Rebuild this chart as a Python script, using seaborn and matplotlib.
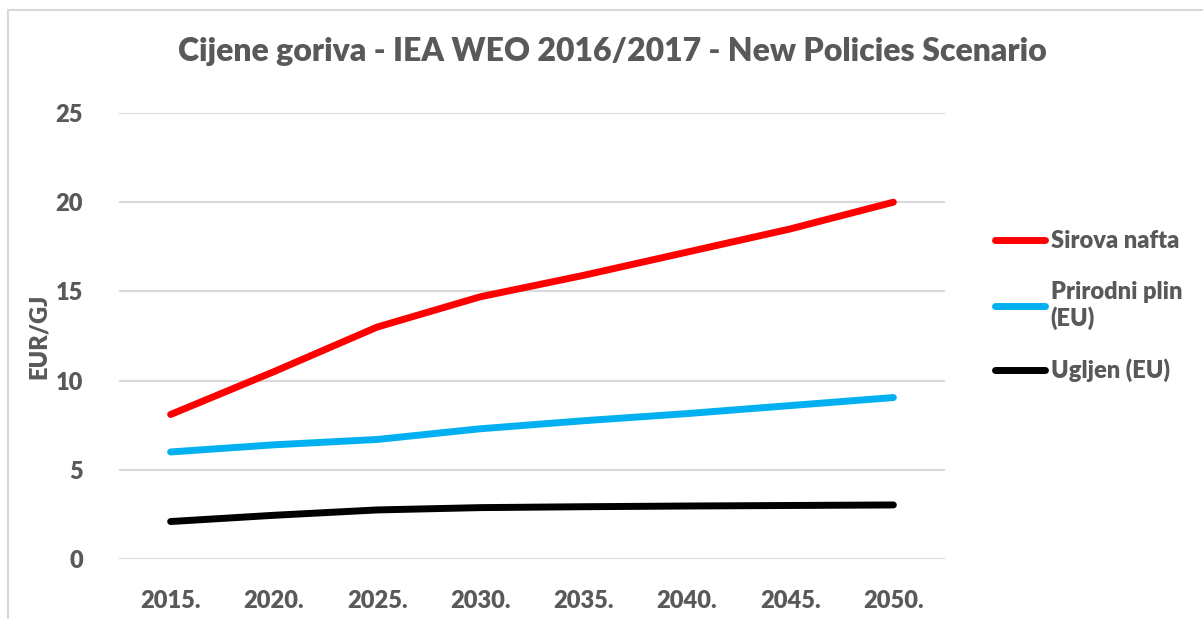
import pandas as pd
import seaborn as sns
import matplotlib.pyplot as plt
from matplotlib.patches import Rectangle

# podaci očitani s grafa (EUR/GJ)
godine = ['2015.', '2020.', '2025.', '2030.', '2035.', '2040.', '2045.', '2050.']
sirova_nafta = [8.1, 10.5, 13.0, 14.7, 15.9, 17.2, 18.5, 20.0]
prirodni_plin = [6.0, 6.4, 6.7, 7.3, 7.75, 8.15, 8.6, 9.05]
ugljen = [2.1, 2.45, 2.75, 2.88, 2.93, 2.97, 3.0, 3.03]
serije = ['Sirova nafta', 'Prirodni plin\n(EU)', 'Ugljen (EU)']
boje = ['#ff0000', '#00b0f0', '#000000']

df = pd.DataFrame({'Godina': godine * 3,
                   'Vrijednost': sirova_nafta + prirodni_plin + ugljen,
                   'Serija': [s for s in serije for _ in godine]})

sns.set_style('white')
plt.rcParams['font.family'] = ['Lato', 'DejaVu Sans']
siva = '#595959'

fig = plt.figure(figsize=(12.03, 6.19), dpi=100)
ax = fig.add_axes([119 / 1203, 1 - 559 / 619, (945 - 119) / 1203, (559 - 113) / 619])

sns.lineplot(data=df, x='Godina', y='Vrijednost', hue='Serija', hue_order=serije,
             palette=dict(zip(serije, boje)), linewidth=5, sort=False, ax=ax,
             solid_capstyle='round', solid_joinstyle='round', zorder=3)

ax.set_xlim(-0.5, len(godine) - 0.5)
ax.set_ylim(0, 25)
ax.set_yticks(range(0, 26, 5))
ax.yaxis.grid(True, color='#d9d9d9', linewidth=1.5)
ax.xaxis.grid(False)
for s in ax.spines.values():
    s.set_visible(False)
ax.tick_params(axis='both', length=0, labelsize=17, labelcolor=siva)
ax.tick_params(axis='x', pad=22)
ax.tick_params(axis='y', pad=26)
for t in ax.get_xticklabels() + ax.get_yticklabels():
    t.set_fontweight('heavy')

ax.set_xlabel('')
ax.set_ylabel('EUR/GJ', fontsize=17, fontweight='heavy', color=siva, labelpad=4)

fig.text(612 / 1203, 1 - 52 / 619, 'Cijene goriva - IEA WEO 2016/2017 - New Policies Scenario',
         ha='center', va='center', fontsize=23, fontweight='heavy', color=siva)

leg = ax.legend(loc='upper left', bbox_to_anchor=(974 / 1203, 1 - 209 / 619),
                bbox_transform=fig.transFigure, frameon=False, handlelength=2.1,
                handletextpad=0.25, labelspacing=1.2, fontsize=17)
for t in leg.get_texts():
    t.set_color(siva)
    t.set_fontweight('heavy')
for h in leg.get_lines():
    h.set_linewidth(5)
    h.set_solid_capstyle('round')

fig.patches.append(Rectangle((8 / 1203, -0.1), 1.2, 1.1 - 10 / 619, transform=fig.transFigure,
                             fill=False, edgecolor='#d9d9d9', linewidth=1.5))

fig.savefig('out.png', dpi=100, facecolor='white')
